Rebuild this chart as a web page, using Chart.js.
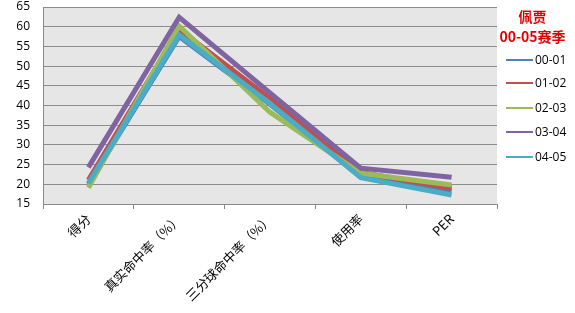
<!DOCTYPE html>
<html>
<head>
<meta charset="utf-8">
<script src="https://cdn.jsdelivr.net/npm/chart.js@4"></script>
<style>
  html, body { margin: 0; padding: 0; background: #fff; }
  #wrap { position: relative; width: 575px; height: 313px; }
  #legendTitle {
    position: absolute; left: 490px; top: 6px; width: 85px; text-align: center;
    color: #e00000; font: bold 14px "Noto Sans CJK SC", sans-serif; line-height: 20px;
  }
  .lg { position: absolute; left: 506px; height: 16px; font: 12px "Open Sans", sans-serif; color: #000; }
  .lg span.sw { position: absolute; left: 0; top: 7px; width: 27px; height: 2px; }
  .lg span.tx { position: absolute; left: 29px; top: -1px; white-space: nowrap; }
</style>
</head>
<body>
<div id="wrap">
  <canvas id="c" width="575" height="313"></canvas>
  <div id="legendTitle">佩贾<br>00-05赛季</div>
  <div id="legend"></div>
</div>
<script>
// --- data ---
const CATEGORIES = ['得分', '真实命中率（%）', '三分球命中率（%）', '使用率', 'PER'];
const SEASONS = ['00-01', '01-02', '02-03', '03-04', '04-05'];
const COLORS = ['#4F81BD', '#C0504D', '#9BBB59', '#8064A2', '#4BACC6'];
const S_0001 = [20.0, 57.5, 40.3, 22.0, 18.3];
const S_0102 = [21.1, 59.3, 41.8, 23.0, 19.0];
const S_0203 = [19.1, 60.2, 38.3, 22.8, 19.8];
const S_0304 = [24.3, 62.4, 43.2, 24.1, 21.8];
const S_0405 = [20.3, 57.9, 40.5, 21.7, 17.3];
const SERIES = [S_0001, S_0102, S_0203, S_0304, S_0405];
const Y_MIN = 15, Y_MAX = 65, Y_STEP = 5;

const plotBg = {
  id: 'plotBg',
  beforeDraw(chart) {
    const a = chart.chartArea, ctx = chart.ctx;
    ctx.save();
    ctx.fillStyle = '#e6e6e6';
    ctx.fillRect(a.left, a.top, a.right - a.left, a.bottom - a.top);
    ctx.restore();
  }
};

const datasets = SERIES.map((d, i) => ({
  label: SEASONS[i],
  data: d,
  borderColor: COLORS[i],
  backgroundColor: COLORS[i],
  borderWidth: 5,
  pointRadius: 0,
  tension: 0,
  order: SERIES.length - 1 - i
}));

new Chart(document.getElementById('c'), {
  type: 'line',
  data: { labels: CATEGORIES, datasets },
  options: {
    responsive: false,
    animation: false,
    layout: { padding: { top: 7, right: 78, left: 0, bottom: 0 } },
    plugins: { legend: { display: false }, tooltip: { enabled: false } },
    scales: {
      x: {
        offset: true,
        grid: { offset: true, drawOnChartArea: false, drawTicks: true, tickLength: 5, color: '#888' },
        border: { color: '#888' },
        ticks: {
          minRotation: 45, maxRotation: 45, padding: 2, color: '#000',
          font: { family: '"Noto Sans CJK SC", sans-serif', size: 13 }
        },
        afterFit(s) { s.height = 109; s.paddingLeft = 0; s.paddingRight = 0; }
      },
      y: {
        min: Y_MIN, max: Y_MAX,
        grid: { color: '#8c8c8c', drawTicks: false },
        border: { color: '#8c8c8c' },
        ticks: {
          stepSize: Y_STEP, padding: 13, color: '#000',
          font: { family: '"Open Sans", sans-serif', size: 12 }
        },
        afterFit(s) { s.width = 43; s.paddingTop = 0; s.paddingBottom = 0; }
      }
    }
  },
  plugins: [plotBg]
});

// legend built from the series arrays
const LEGEND_Y = [52, 75, 100, 124, 149];
document.getElementById('legend').innerHTML = SEASONS.map((s, i) =>
  `<div class="lg" style="top:${LEGEND_Y[i]}px"><span class="sw" style="background:${COLORS[i]}"></span><span class="tx">${s}</span></div>`
).join('');
</script>
</body>
</html>
